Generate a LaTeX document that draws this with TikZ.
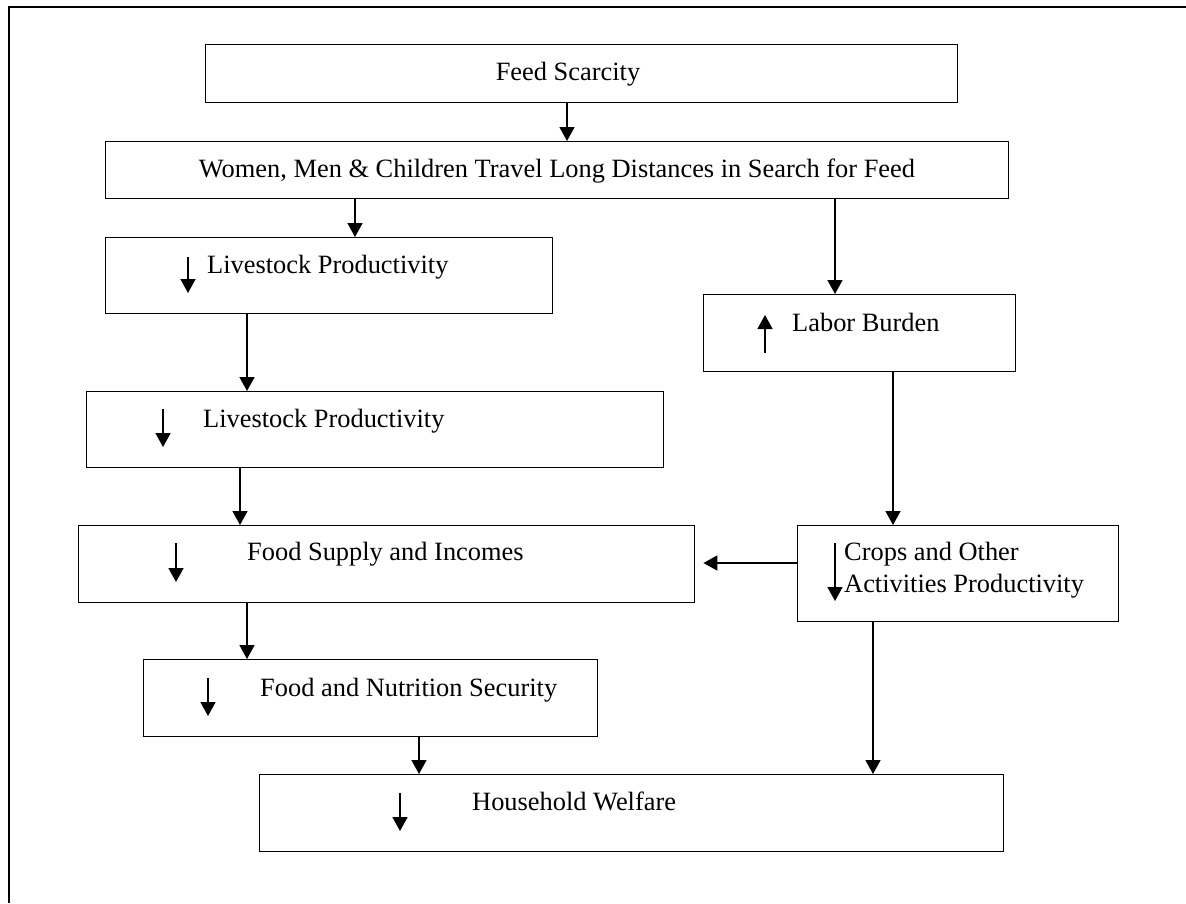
\documentclass[tikz,border=0pt]{standalone}
\usepackage{fontspec}
\setmainfont{Liberation Serif}
\usetikzlibrary{positioning, arrows.meta}

\begin{document}
\begin{tikzpicture}[x=1pt, y=-1pt]
  % Define styles for nodes
  \tikzset{
    boxnode/.style={rectangle, draw, line width=1.4pt, inner sep=0pt, anchor=north west},
    labeltext/.style={font=\fontsize{26.4pt}{32pt}\selectfont, inner sep=0pt, anchor=base west, align=left},
    flow/.style={-{Triangle[length=14pt, width=15pt]}, line width=1.6pt},
    trend/.style={-{Triangle[length=14pt, width=15pt]}, line width=1.6pt}
  }
  \useasboundingbox (0,0) rectangle (1186,903);

  % Outer frame
  \draw[line width=1.4pt] (1186,7) -- (9,7) -- (9,903);

  % Create the boxes
  \node[boxnode, minimum width=752pt, minimum height=58pt] (feed) at (205,44) {};
  \node[boxnode, minimum width=903pt, minimum height=57pt] (women) at (105,141) {};
  \node[boxnode, minimum width=447pt, minimum height=76pt] (lp1) at (105,237) {};
  \node[boxnode, minimum width=312pt, minimum height=77pt] (labor) at (703,294) {};
  \node[boxnode, minimum width=577pt, minimum height=76pt] (lp2) at (86,391) {};
  \node[boxnode, minimum width=616pt, minimum height=77pt] (supply) at (78,525) {};
  \node[boxnode, minimum width=321pt, minimum height=96pt] (crops) at (797,525) {};
  \node[boxnode, minimum width=454pt, minimum height=77pt] (nutri) at (143,659) {};
  \node[boxnode, minimum width=744pt, minimum height=77pt] (welfare) at (259,774) {};

  % Add the texts inside the boxes
  \node[labeltext, anchor=base] (feedtxt) at (568,80) {Feed Scarcity};
  \node[labeltext, anchor=base] (womentxt) at (557,177) {Women, Men \& Children Travel Long Distances in Search for Feed};
  \node[labeltext] (lp1txt) at (207,273) {Livestock Productivity};
  \node[labeltext] (labortxt) at (792,331) {Labor Burden};
  \node[labeltext] (lp2txt) at (203,427) {Livestock Productivity};
  \node[labeltext] (supplytxt) at (247,560) {Food Supply and Incomes};
  \node[labeltext] (cropstxt) at (844,592) {Crops and Other\\Activities Productivity};
  \node[labeltext] (nutritxt) at (260,696) {Food and Nutrition Security};
  \node[labeltext] (welfaretxt) at (472,810) {Household Welfare};

  % Small trend arrows in front of the texts
  \draw[trend] ([xshift=83pt, yshift=-20pt]lp1.north west) -- ++(0,36);
  \draw[trend] ([xshift=62pt, yshift=-59pt]labor.north west) -- ++(0,-38);
  \draw[trend] ([xshift=77pt, yshift=-18pt]lp2.north west) -- ++(0,38);
  \draw[trend] ([xshift=98pt, yshift=-18pt]supply.north west) -- ++(0,39);
  \draw[trend] ([xshift=38pt, yshift=-18pt]crops.north west) -- ++(0,58);
  \draw[trend] ([xshift=65pt, yshift=-19pt]nutri.north west) -- ++(0,38);
  \draw[trend] ([xshift=141pt, yshift=-19pt]welfare.north west) -- ++(0,38);

  % Draw the connectors between the boxes
  \draw[flow] ([xshift=362pt]feed.south west) -- ([xshift=462pt]women.north west);
  \draw[flow] ([xshift=250pt]women.south west) -- ([xshift=250pt]lp1.north west);
  \draw[flow] ([xshift=730pt]women.south west) -- ([xshift=132pt]labor.north west);
  \draw[flow] ([xshift=142pt]lp1.south west) -- ([xshift=161pt]lp2.north west);
  \draw[flow] ([xshift=154pt]lp2.south west) -- ([xshift=162pt]supply.north west);
  \draw[flow] ([xshift=190pt]labor.south west) -- ([xshift=96pt]crops.north west);
  \draw[flow] ([yshift=-38pt]crops.north west) -- ([yshift=-38pt, xshift=8pt]supply.north east);
  \draw[flow] ([xshift=169pt]supply.south west) -- ([xshift=104pt]nutri.north west);
  \draw[flow] ([xshift=276pt]nutri.south west) -- ([xshift=160pt]welfare.north west);
  \draw[flow] ([xshift=76pt]crops.south west) -- ([xshift=614pt]welfare.north west);
\end{tikzpicture}
\end{document}
